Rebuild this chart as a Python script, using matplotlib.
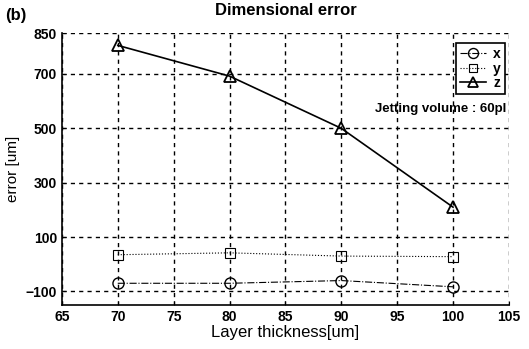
import matplotlib
matplotlib.use("Agg")
import matplotlib.pyplot as plt

plt.rcParams['font.family'] = ['Liberation Sans', 'DejaVu Sans']

thickness = [70, 80, 90, 100]
err_x = [-70, -70, -60, -83]
err_y = [35, 42, 30, 28]
err_z = [805, 692, 500, 210]
xticks = [65, 70, 75, 80, 85, 90, 95, 100, 105]
yticks = [-100, 100, 300, 500, 700, 850]

fig = plt.figure(figsize=(5.29, 3.49), dpi=100)
ax = fig.add_axes([0.117, 0.126, 0.845, 0.779])

ax.plot(thickness, err_x, linestyle='-.', color='black', lw=0.8,
        marker='o', markersize=8, markerfacecolor='none', markeredgecolor='black', label='x')
ax.plot(thickness, err_y, linestyle=':', color='black', lw=0.8,
        marker='s', markersize=7, markerfacecolor='none', markeredgecolor='black',
        markeredgewidth=0.8, label='y')
ax.plot(thickness, err_z, linestyle='-', color='black', lw=1.2,
        marker='^', markersize=8, markerfacecolor='none', markeredgecolor='black',
        markeredgewidth=1.3, label='z')

ax.set_xlim(65, 105)
ax.set_ylim(-150, 850)
ax.set_xticks(xticks)
ax.set_yticks(yticks)
ax.tick_params(direction='in', length=3, labelsize=10)
for lbl in ax.get_xticklabels() + ax.get_yticklabels():
    lbl.set_fontweight('bold')

ax.grid(True, color='black', linestyle=(0, (3, 3)), linewidth=1.0)
ax.spines['top'].set_visible(False)
ax.spines['right'].set_visible(False)
ax.spines['left'].set_linewidth(1.2)
ax.spines['bottom'].set_linewidth(1.2)

ax.set_xlabel('Layer thickness[um]', fontsize=12, labelpad=1)
ax.set_ylabel('error [um]', fontsize=11, labelpad=4)
ax.set_title('Dimensional error', fontsize=12, fontweight='bold', pad=13)

leg = ax.legend(loc='upper right', bbox_to_anchor=(0.998, 0.975), fancybox=False,
                edgecolor='black', framealpha=1, handlelength=1.9, handletextpad=0.5,
                prop={'weight': 'bold', 'size': 10}, borderpad=0.3, labelspacing=0.05,
                borderaxespad=0.2, markerscale=0.9)
leg.get_frame().set_linewidth(1.2)

ax.text(0.995, 0.722, 'Jetting volume : 60pl', transform=ax.transAxes,
        ha='right', va='center', fontsize=9.5, fontweight='bold')

fig.text(0.01, 0.955, '(b)', fontsize=12, fontweight='bold', ha='left', va='center')

fig.savefig('out.png', dpi=100)
